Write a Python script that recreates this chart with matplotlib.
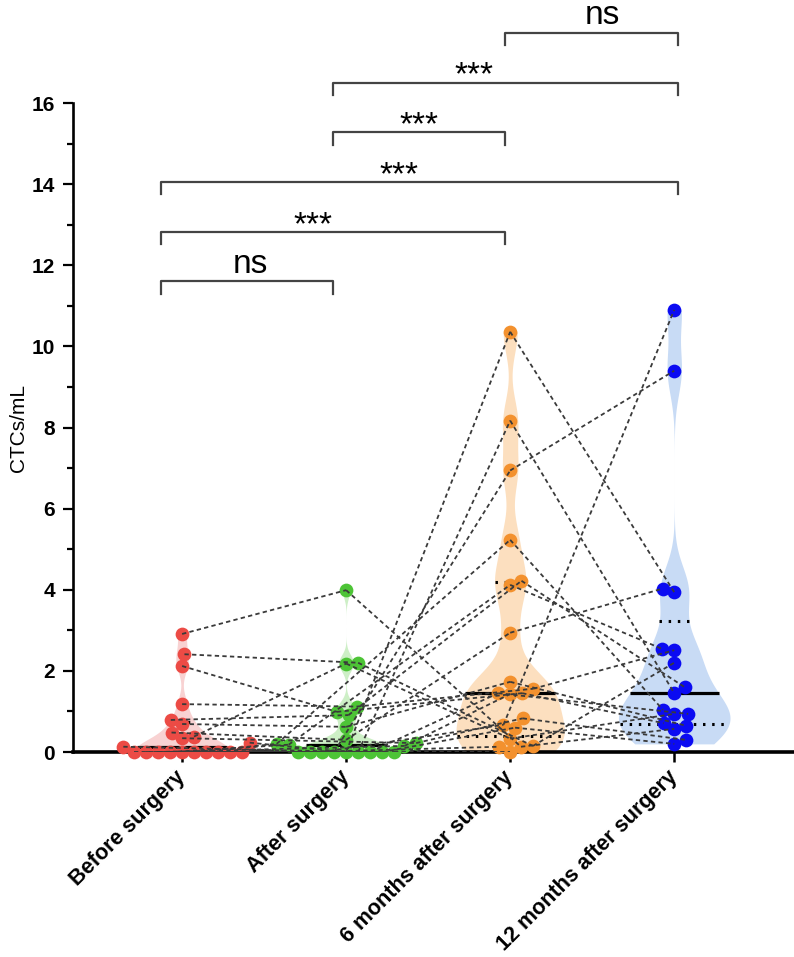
import numpy as np
import matplotlib
matplotlib.use('Agg')
import matplotlib.pyplot as plt

plt.rcParams['font.family'] = ['Liberation Sans', 'DejaVu Sans']

nan = np.nan

groups = ['Before surgery', 'After surgery', '6 months after surgery', '12 months after surgery']

# one entry per patient (same order in every list), CTCs/mL, nan = no sample
before = [2.91, 2.41, 2.12, 1.18, 0.38, 0.79, 0.69, 0.48, 0.34, 0.23, 0.13,
          0, 0, 0, 0, 0, 0, 0, 0, 0, 0]
after = [3.99, 2.20, 0.99, 1.12, 2.18, 0.91, 0.62, 0.30, 0.22, 0, 0,
         0, 0.20, 0.18, 0, 0.15, 0, 0, 0, 0, 0]
month6 = [0.13, 0.15, 1.45, 1.56, 0.33, 4.22, 1.73, 2.94, 0.83, 10.36, 8.17,
          6.94, 5.23, 4.12, 1.45, 1.43, 0.67, 0.60, 0.13, 0.0, nan]
month12 = [0.57, 2.20, 0.71, 2.51, 0.94, 1.60, 0.65, 4.03, 0.30, 3.94, 1.45,
           9.40, 1.04, 2.54, 0.94, nan, 10.90, 0.20, nan, nan, nan]

# significance brackets
pairs = [(0, 1), (0, 2), (0, 3), (1, 2), (1, 3), (2, 3)]
labels = ['ns', '***', '***', '***', '***', 'ns']

# styles
dot_colors = ['#EC4B45', '#4DC436', '#F3912E', '#0B0BF2']
violin_colors = ['#F8D2D2', '#CDEFC6', '#FCDFBF', '#C8DBF5']
bw = [0.25, 0.2, 0.55, 0.6]
half_width = [0.28, 0.28, 0.33, 0.34]
label_dx = [0.02, -0.12, -0.12, 0.0, -0.19, 0.07]  # hand placed text nudges

data = np.array([before, after, month6, month12], dtype=float)

fig = plt.figure(figsize=(7.94, 9.57), dpi=100)
ax = fig.add_axes([73 / 794, 1 - 752 / 957, 721 / 794, 750 / 957])
ax.set_xlim(-0.665, 3.73)
ax.set_ylim(0, 18.49)

# violins from a gaussian kde of each group
for g in range(4):
    v = data[g][~np.isnan(data[g])]
    yy = np.linspace(v.min(), v.max(), 400)
    dens = np.exp(-0.5 * ((yy[:, None] - v[None, :]) / bw[g]) ** 2).sum(axis=1)
    half = dens / dens.max() * half_width[g]
    ax.fill_betweenx(yy, g - half, g + half, color=violin_colors[g], lw=0, zorder=1)
    q1, med, q3 = np.percentile(v, [25, 50, 75], method='weibull')
    w = np.interp(med, yy, half)
    ax.plot([g - w, g + w], [med, med], color='black', lw=2.3, zorder=2,
            solid_capstyle='butt')
    for q in (q1, q3):
        w = np.interp(q, yy, half)
        ax.plot([g - w, g + w], [q, q], color='black', lw=2.2, zorder=2,
                ls=(0, (0.8, 2.2)))


# beeswarm placement in pixel space
def swarm(xc, ys, dsep):
    order = np.argsort(ys, kind='stable')
    placed = []
    xs = np.zeros(len(ys))
    for k, i in enumerate(order):
        y = ys[i]
        blocks = []
        for px, py in placed:
            dy = abs(py - y)
            if dy < dsep:
                w = np.sqrt(dsep ** 2 - dy ** 2)
                blocks.append((px - w, px + w))
        cands = [0.0] + [b[0] for b in blocks] + [b[1] for b in blocks]
        cands.sort(key=lambda c: (round(abs(c), 6), -c if k % 2 else c))
        best = 0.0
        for c in cands:
            if all(not (lo + 1e-6 < c < hi - 1e-6) for lo, hi in blocks):
                best = c
                break
        xs[i] = xc + best
        placed.append((best, y))
    return xs


fig.canvas.draw()
inv = ax.transData.inverted()
pos_x = np.full(data.shape, nan)
for g in range(4):
    ok = ~np.isnan(data[g])
    pts = ax.transData.transform(np.column_stack([np.full(ok.sum(), g), data[g][ok]]))
    xs_px = swarm(pts[0, 0], pts[:, 1], 12.0)
    back = inv.transform(np.column_stack([xs_px, pts[:, 1]]))
    pos_x[g][ok] = back[:, 0]
    ax.scatter(back[:, 0], data[g][ok], s=98, color=dot_colors[g], lw=0,
               zorder=3, clip_on=False)

# dashed lines joining each patient's consecutive samples
for p in range(data.shape[1]):
    for g in range(3):
        if not np.isnan(data[g, p]) and not np.isnan(data[g + 1, p]):
            ax.plot(pos_x[g:g + 2, p], data[g:g + 2, p], color='#3a3a3a', lw=1.3,
                    ls=(0, (2.4, 1.8)), zorder=4)

# brackets
bracket_shift, bracket_scale = -0.13, 1.05
for k, ((a, b), lab) in enumerate(zip(pairs, labels)):
    y = 11.6 + 1.225 * k
    xa = bracket_shift + bracket_scale * a
    xb = bracket_shift + bracket_scale * b
    ax.plot([xa, xa, xb, xb], [y - 0.3, y, y, y - 0.3], color='#444444', lw=1.6,
            clip_on=False, zorder=5)
    off = 0.22 if lab == 'ns' else -0.05
    ax.text((xa + xb) / 2 + label_dx[k], y + off, lab, ha='center', va='baseline',
            fontsize=24, clip_on=False)

# axes styling
for s in ('top', 'right'):
    ax.spines[s].set_visible(False)
ax.spines['left'].set_bounds(0, 16)
ax.spines['left'].set_linewidth(1.9)
ax.spines['bottom'].set_linewidth(2.6)
ax.set_yticks(np.arange(0, 17, 2))
ax.set_yticks(np.arange(1, 16, 2), minor=True)
ax.tick_params(axis='y', which='major', length=7, width=1.6, labelsize=15, pad=6)
ax.tick_params(axis='y', which='minor', length=4.5, width=1.6)
for t in ax.get_yticklabels():
    t.set_fontweight('bold')
ax.set_xticks(range(4))
ax.set_xticklabels(groups, rotation=45, ha='right', va='center',
                   rotation_mode='anchor', fontsize=15.5, fontweight='bold')
ax.tick_params(axis='x', length=7, width=1.8, pad=9)
ax.set_ylabel('CTCs/mL', fontsize=15)
ax.yaxis.set_label_coords(-0.062, 8 / 18.49)

fig.savefig('out.png', dpi=100)
